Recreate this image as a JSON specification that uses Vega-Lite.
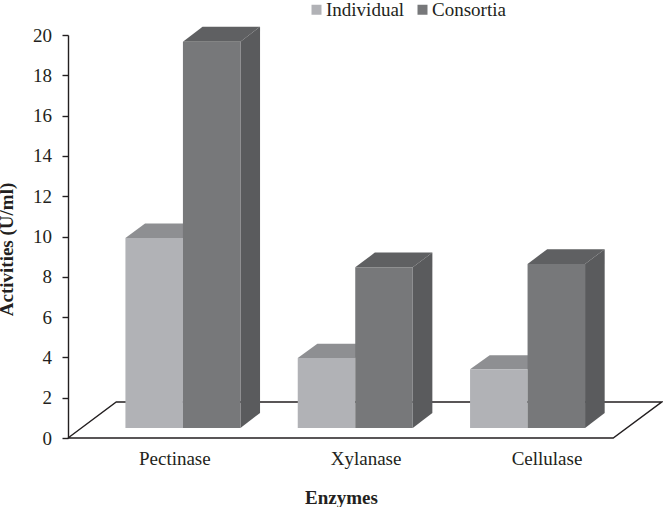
{
"$schema":"https://vega.github.io/schema/vega-lite/v6.json",
"width":595,"height":403,
"autosize":"none",
"padding":{"left":68,"top":35,"right":0,"bottom":69},
"background":"white",
"config":{"view":{"stroke":null},"font":"Liberation Serif"},
"datasets":{
"floor":[{"o":1,"x":0.333,"y":0},{"o":2,"x":0.613,"y":1.79},{"o":3,"x":3.78,"y":1.79},{"o":4,"x":3.497,"y":0},{"o":5,"x":0.333,"y":0}],
"bars":[
{"enzyme":"Pectinase","series":"Individual","left":0.6663,"right":1,"value":9.93,"base":0.5},
{"enzyme":"Pectinase","series":"Consortia","left":1,"right":1.3337,"value":19.67,"base":0.5},
{"enzyme":"Xylanase","series":"Individual","left":1.6663,"right":2,"value":3.97,"base":0.5},
{"enzyme":"Xylanase","series":"Consortia","left":2,"right":2.3337,"value":8.47,"base":0.5},
{"enzyme":"Cellulase","series":"Individual","left":2.6663,"right":3,"value":3.41,"base":0.5},
{"enzyme":"Cellulase","series":"Consortia","left":3,"right":3.3337,"value":8.64,"base":0.5}],
"tops":[
{"id":"P-I","series":"Individual","left":0.6663,"right":1,"y":9.93},
{"id":"P-I","series":"Individual","left":0.7801,"right":1.1138,"y":10.64},
{"id":"P-C","series":"Consortia","left":1,"right":1.3337,"y":19.67},
{"id":"P-C","series":"Consortia","left":1.1138,"right":1.4475,"y":20.41},
{"id":"X-I","series":"Individual","left":1.6663,"right":2,"y":3.97},
{"id":"X-I","series":"Individual","left":1.7801,"right":2.1138,"y":4.68},
{"id":"X-C","series":"Consortia","left":2,"right":2.3337,"y":8.47},
{"id":"X-C","series":"Consortia","left":2.1138,"right":2.4475,"y":9.2},
{"id":"C-I","series":"Individual","left":2.6663,"right":3,"y":3.41},
{"id":"C-I","series":"Individual","left":2.7801,"right":3.1138,"y":4.11},
{"id":"C-C","series":"Consortia","left":3,"right":3.3337,"y":8.64},
{"id":"C-C","series":"Consortia","left":3.1138,"right":3.4475,"y":9.37}],
"sides":[
{"id":"P","x":1.3337,"top":19.67,"bottom":0.5},
{"id":"P","x":1.4475,"top":20.41,"bottom":1.24},
{"id":"X","x":2.3337,"top":8.47,"bottom":0.5},
{"id":"X","x":2.4475,"top":9.2,"bottom":1.24},
{"id":"C","x":3.3337,"top":8.64,"bottom":0.5},
{"id":"C","x":3.4475,"top":9.37,"bottom":1.24}]
},
"layer":[
{"data":{"name":"floor"},
 "mark":{"type":"line","color":"#231f20","strokeWidth":1.4,"clip":false},
 "encoding":{
  "x":{"field":"x","type":"quantitative","scale":{"domain":[0.333,3.786],"nice":false,"zero":false},
   "axis":{"values":[0.95,2.06,3.11],"labelExpr":"datum.value<1.5?'Pectinase':datum.value<2.5?'Xylanase':'Cellulase'","domain":false,"grid":false,"ticks":false,"labelFontSize":19,"labelColor":"#231f20","labelPadding":11,"labelFont":"Liberation Serif","title":"Enzymes","titleFont":"Liberation Serif","titleFontSize":19,"titleFontWeight":"bold","titleColor":"#231f20","titleX":273,"titleY":65,"titleBaseline":"alphabetic"}},
  "y":{"field":"y","type":"quantitative","scale":{"domain":[0,20],"nice":false},
   "axis":{"values":[0,2,4,6,8,10,12,14,16,18,20],"grid":false,"domainColor":"#231f20","domainWidth":1.4,"tickColor":"#231f20","tickWidth":1.4,"tickSize":6,"labelFontSize":19,"labelColor":"#231f20","labelPadding":10.5,"labelFont":"Liberation Serif","title":"Activities (U/ml)","titleFont":"Liberation Serif","titleFontSize":19,"titleFontWeight":"bold","titleColor":"#231f20","titleX":-52,"titleY":214}},
  "order":{"field":"o","type":"quantitative"}
 }},
{"data":{"name":"tops"},"transform":[{"filter":"datum.series==='Individual'"}],
 "mark":{"type":"area","orient":"horizontal","color":"#8e8f92"},
 "encoding":{"y":{"field":"y","type":"quantitative"},"x":{"field":"left","type":"quantitative"},"x2":{"field":"right"},"detail":{"field":"id"}}},
{"data":{"name":"tops"},"transform":[{"filter":"datum.series==='Consortia'"}],
 "mark":{"type":"area","orient":"horizontal","color":"#5f6062"},
 "encoding":{"y":{"field":"y","type":"quantitative"},"x":{"field":"left","type":"quantitative"},"x2":{"field":"right"},"detail":{"field":"id"}}},
{"data":{"name":"sides"},
 "mark":{"type":"area","orient":"vertical","color":"#5a5b5d"},
 "encoding":{"x":{"field":"x","type":"quantitative"},"y":{"field":"top","type":"quantitative"},"y2":{"field":"bottom"},"detail":{"field":"id"}}},
{"data":{"name":"bars"},
 "mark":{"type":"rect"},
 "encoding":{
  "x":{"field":"left","type":"quantitative"},"x2":{"field":"right"},
  "y":{"field":"value","type":"quantitative"},"y2":{"field":"base"},
  "color":{"field":"series","type":"nominal","scale":{"domain":["Individual","Consortia"],"range":["#b1b2b6","#77787a"]},
   "legend":{"title":null,"orient":"none","direction":"horizontal","legendX":239,"legendY":-35,"symbolType":"square","symbolSize":100,"symbolStrokeWidth":0,"labelFontSize":19,"labelFont":"Liberation Serif","labelColor":"#231f20","labelOffset":0,"columnPadding":8,"padding":0}}
 }}
]
}
